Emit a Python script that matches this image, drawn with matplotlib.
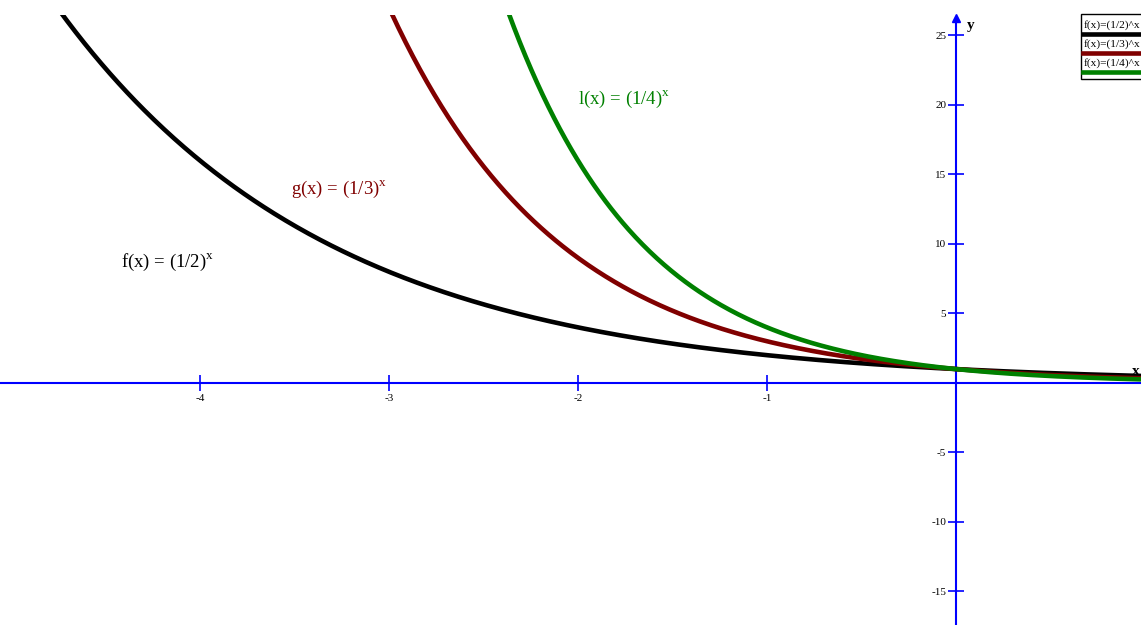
import numpy as np
import matplotlib.pyplot as plt
from matplotlib.patches import Rectangle
from matplotlib.lines import Line2D

plt.rcParams['font.family'] = ['Liberation Serif', 'DejaVu Serif']
plt.rcParams['mathtext.fontset'] = 'custom'
plt.rcParams['mathtext.rm'] = 'Liberation Serif'

# functions shown: base ** x
bases = [1 / 2, 1 / 3, 1 / 4]
colors = ['black', '#800000', '#008000']
legend_labels = ['f(x)=(1/2)^x', 'f(x)=(1/3)^x', 'f(x)=(1/4)^x']
curve_labels = ['f(x) = (1/2)$^{\\mathrm{x}}$', 'g(x) = (1/3)$^{\\mathrm{x}}$', 'l(x) = (1/4)$^{\\mathrm{x}}$']
label_pos = [(-4.42, 8.7), (-3.52, 13.9), (-2.0, 20.4)]
x_ticks = [-4, -3, -2, -1]
y_ticks = [-15, -10, -5, 5, 10, 15, 20, 25]

xmin, xmax = -5.058, 0.979
ymin, ymax = -17.41, 26.47

x = np.linspace(xmin, xmax, 800)

W, H = 1141, 625
fig = plt.figure(figsize=(11.41, 6.25), dpi=100)
ax = fig.add_axes([0, 0, 1, 1 - 15 / H])
ax.set_xlim(xmin, xmax)
ax.set_ylim(ymin, ymax)

for b, c in zip(bases, colors):
    ax.plot(x, b ** x, color=c, lw=3.3, solid_capstyle='butt', zorder=3)

for (tx, ty), lab, c in zip(label_pos, curve_labels, colors):
    ax.text(tx, ty, lab, color=c, fontsize=13.5, ha='left', va='center')

# axes through the origin
for side in ['top', 'right']:
    ax.spines[side].set_visible(False)
for side in ['left', 'bottom']:
    ax.spines[side].set_position('zero')
    ax.spines[side].set_color('blue')
    ax.spines[side].set_linewidth(1.5)
    ax.spines[side].set_zorder(2)
ax.spines['left'].set_bounds(ymin, 26.0)
ax.plot(0, 26.25, marker='^', color='blue', ms=6, clip_on=False, zorder=4)

ax.set_xticks(x_ticks)
ax.set_yticks(y_ticks)
ax.set_xticklabels([str(t) for t in x_ticks])
ax.set_yticklabels([str(t) for t in y_ticks])
ax.tick_params(axis='both', direction='inout', length=12, width=1.2, color='blue',
               labelsize=8, labelcolor='black')
ax.tick_params(axis='x', pad=2)
ax.tick_params(axis='y', pad=1)

ax.text(0.06, 25.7, 'y', fontsize=11, fontweight='bold', ha='left', va='center', clip_on=False)
ax.text(xmax - 0.005, 0.85, 'x', fontsize=11, fontweight='bold', ha='right', va='center')

# legend box (clipped at the right edge)
fig.patches.append(Rectangle((1081 / W, 1 - 79 / H), 80 / W, 65 / H, transform=fig.transFigure,
                             facecolor='white', edgecolor='black', lw=1.0, zorder=5))
text_y = [25, 44, 63]
line_y = [34, 53, 72]
for lab, c, ty, ly in zip(legend_labels, colors, text_y, line_y):
    fig.text(1084 / W, 1 - ty / H, lab, fontsize=8.2, color='black', va='center', ha='left', zorder=6)
    fig.lines.append(Line2D([1083 / W, 1.0], [1 - ly / H, 1 - ly / H], transform=fig.transFigure,
                            color=c, lw=3.3, zorder=6))

fig.savefig('out.png', dpi=100)
